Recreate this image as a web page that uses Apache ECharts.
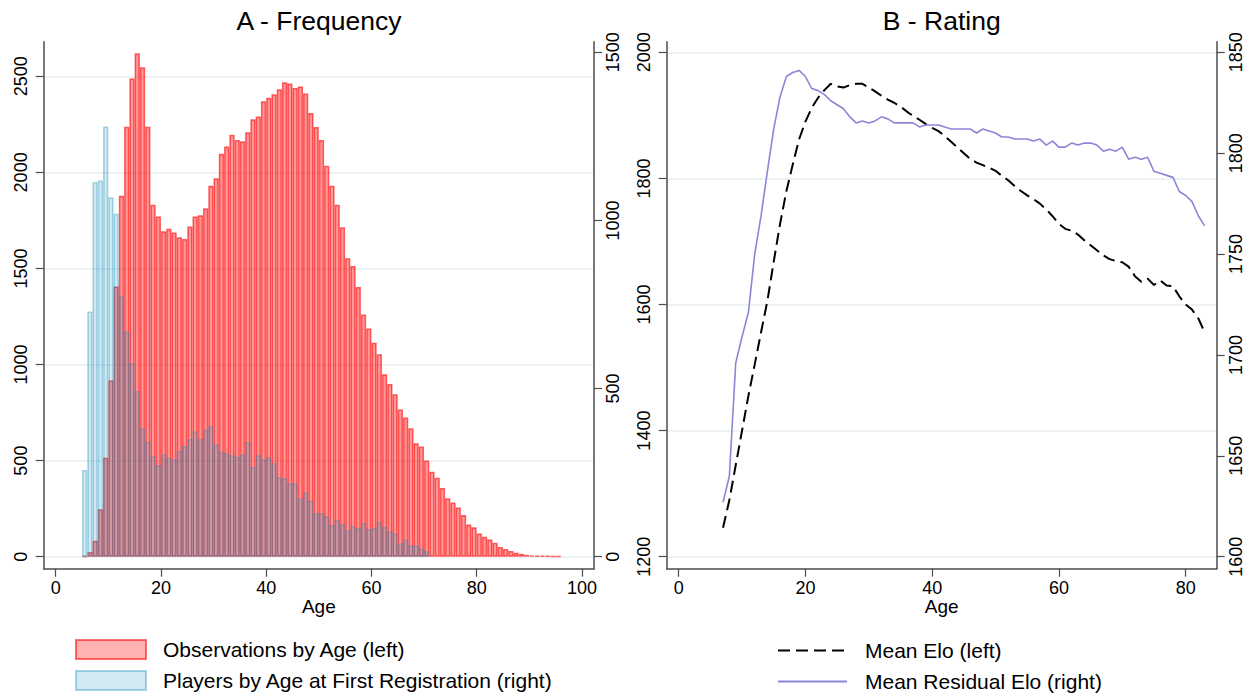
<!DOCTYPE html>
<html>
<head>
<meta charset="utf-8">
<title>Frequency and rating by age</title>
<script src="https://cdn.jsdelivr.net/npm/echarts@6/dist/echarts.min.js"></script>
<style>
  html, body { margin: 0; padding: 0; background: #fff; }
  #chart { width: 1249px; height: 694px; }
</style>
</head>
<body>
<div id="chart"></div>
<script>
// A - Frequency: one-year bins, value = start age of the bin
var obsBins = [5, 6, 7, 8, 9, 10, 11, 12, 13, 14, 15, 16, 17, 18, 19, 20, 21, 22, 23, 24,
  25, 26, 27, 28, 29, 30, 31, 32, 33, 34, 35, 36, 37, 38, 39, 40, 41, 42, 43, 44,
  45, 46, 47, 48, 49, 50, 51, 52, 53, 54, 55, 56, 57, 58, 59, 60, 61, 62, 63, 64,
  65, 66, 67, 68, 69, 70, 71, 72, 73, 74, 75, 76, 77, 78, 79, 80, 81, 82, 83, 84,
  85, 86, 87, 88, 89, 90, 91, 92, 93, 94, 95];
var obsByAge = [3, 24, 83, 247, 515, 918, 1406, 1879, 2237, 2488, 2620, 2547, 2237, 1831, 1770, 1693, 1707, 1687, 1662, 1653,
  1718, 1770, 1777, 1813, 1931, 1969, 2097, 2135, 2196, 2168, 2162, 2209, 2276, 2291, 2370, 2388, 2407, 2433, 2469, 2462,
  2439, 2447, 2410, 2309, 2236, 2168, 2035, 1931, 1832, 1714, 1553, 1513, 1404, 1261, 1187, 1114, 1053, 949, 899, 845,
  766, 725, 668, 591, 573, 501, 442, 411, 358, 304, 282, 256, 217, 168, 153, 121, 104, 90, 72, 50,
  40, 30, 21, 15, 10, 7, 6, 5, 4, 3, 2];

var regBins = [5, 6, 7, 8, 9, 10, 11, 12, 13, 14, 15, 16, 17, 18, 19, 20, 21, 22, 23, 24,
  25, 26, 27, 28, 29, 30, 31, 32, 33, 34, 35, 36, 37, 38, 39, 40, 41, 42, 43, 44,
  45, 46, 47, 48, 49, 50, 51, 52, 53, 54, 55, 56, 57, 58, 59, 60, 61, 62, 63, 64,
  65, 66, 67, 68, 69, 70];
var playersByRegAge = [258, 729, 1114, 1119, 1279, 1069, 1020, 777, 670, 575, 493, 382, 342, 299, 273, 305, 294, 290, 315, 329,
  350, 373, 350, 378, 389, 334, 312, 309, 302, 297, 304, 342, 267, 302, 289, 296, 278, 237, 233, 219,
  218, 174, 192, 166, 130, 130, 120, 94, 109, 97, 79, 91, 85, 100, 82, 85, 105, 89, 75, 69,
  40, 51, 34, 33, 25, 17];

// B - Rating
var ratingAges = [7, 8, 9, 10, 11, 12, 13, 14, 15, 16, 17, 18, 19, 20, 21, 22, 23, 24, 25, 26,
  27, 28, 29, 30, 31, 32, 33, 34, 35, 36, 37, 38, 39, 40, 41, 42, 43, 44, 45, 46,
  47, 48, 49, 50, 51, 52, 53, 54, 55, 56, 57, 58, 59, 60, 61, 62, 63, 64, 65, 66,
  67, 68, 69, 70, 71, 72, 73, 74, 75, 76, 77, 78, 79, 80, 81, 82, 83];
var meanElo = [1246, 1290, 1345, 1400, 1455, 1505, 1556, 1606, 1668, 1728, 1780, 1822, 1862, 1890, 1912, 1928, 1940, 1950, 1946, 1944,
  1948, 1950, 1950, 1944, 1938, 1931, 1925, 1920, 1914, 1906, 1899, 1893, 1886, 1880, 1875, 1867, 1858, 1849, 1840, 1831,
  1825, 1821, 1817, 1812, 1804, 1797, 1788, 1780, 1773, 1767, 1760, 1751, 1740, 1728, 1720, 1717, 1711, 1702, 1694, 1686,
  1678, 1672, 1669, 1667, 1660, 1645, 1636, 1641, 1631, 1638, 1630, 1629, 1613, 1600, 1592, 1578, 1556];
var meanResidElo = [1627, 1640, 1696, 1709, 1721, 1750, 1769, 1791, 1812, 1828, 1838, 1840, 1841, 1838, 1832, 1831, 1829, 1826, 1824, 1822,
  1818, 1815, 1816, 1815, 1816, 1818, 1817, 1815, 1815, 1815, 1815, 1813, 1814, 1814, 1814, 1813, 1812, 1812, 1812, 1812,
  1810, 1812, 1811, 1810, 1808, 1808, 1807, 1807, 1807, 1806, 1807, 1804, 1806, 1803, 1803, 1805, 1804, 1805, 1805, 1804,
  1801, 1802, 1801, 1803, 1797, 1798, 1797, 1798, 1791, 1790, 1789, 1788, 1781, 1779, 1776, 1769, 1764];

// tick labels
var freqAgeTicks = [0, 20, 40, 60, 80, 100];
var obsTicks = [0, 500, 1000, 1500, 2000, 2500];
var regTicks = [0, 500, 1000, 1500];
var ratingAgeTicks = [0, 20, 40, 60, 80];
var eloTicks = [1200, 1400, 1600, 1800, 2000];
var residTicks = [1600, 1650, 1700, 1750, 1800, 1850];

var font = '"Liberation Sans", Arial, sans-serif';
var axisCol = '#4d4d4d';
var gridCol = '#e7eff2';

function plain(v) { return String(v); }

function xAx(grid, min, max, ticks) {
  return {
    gridIndex: grid, type: 'value', min: min, max: max,
    name: 'Age', nameLocation: 'middle', nameGap: 28, nameMoveOverlap: false,
    nameTextStyle: { fontSize: 19, color: '#000', fontFamily: font },
    axisLine: { show: true, onZero: false, lineStyle: { color: axisCol, width: 1.5 } },
    axisTick: { show: true, length: 8, customValues: ticks, lineStyle: { color: axisCol, width: 1.2 } },
    axisLabel: { customValues: ticks, formatter: plain, fontSize: 18, color: '#000', margin: 10, fontFamily: font },
    splitLine: { show: false }
  };
}

function yAx(grid, pos, min, max, ticks, grd) {
  return {
    gridIndex: grid, type: 'value', position: pos, min: min, max: max,
    axisLine: { show: true, onZero: false, lineStyle: { color: axisCol, width: 1.5 } },
    axisTick: { show: true, length: 8, customValues: ticks, lineStyle: { color: axisCol, width: 1.2 } },
    axisLabel: { customValues: ticks, formatter: plain, rotate: 90, fontSize: 18, color: '#000',
      margin: pos == 'left' ? 14 : 10, fontFamily: font },
    splitLine: { show: grd, lineStyle: { color: gridCol, width: 1.5 } }
  };
}

var chart = echarts.init(document.getElementById('chart'), null, { renderer: 'svg' });

var option = {
  animation: false,
  backgroundColor: '#fff',
  textStyle: { fontFamily: font },
  graphic: [
    { type: 'text', x: 319, y: 21, style: { text: 'A - Frequency', fontSize: 26.5, fontFamily: font,
      fill: '#000', align: 'center', verticalAlign: 'middle' } },
    { type: 'text', x: 941.7, y: 21, style: { text: 'B - Rating', fontSize: 26.5, fontFamily: font,
      fill: '#000', align: 'center', verticalAlign: 'middle' } }
  ],
  grid: [
    { left: 43.7, right: 655, top: 41.7, bottom: 125.3, outerBoundsMode: 'none' },
    { left: 666.7, right: 32.3, top: 41.7, bottom: 125.3, outerBoundsMode: 'none' }
  ],
  xAxis: [
    xAx(0, -2.28, 102.3, freqAgeTicks),
    xAx(1, -1.89, 84.9, ratingAgeTicks)
  ],
  yAxis: [
    yAx(0, 'left', -62.4, 2680, obsTicks, true),
    yAx(0, 'right', -35.7, 1531.5, regTicks, false),
    yAx(1, 'left', 1181, 2016.8, eloTicks, true),
    yAx(1, 'right', 1594.05, 1855.25, residTicks, false)
  ],
  legend: [
    {
      orient: 'vertical', left: 75, top: 639, padding: 0,
      itemWidth: 70, itemHeight: 19, itemGap: 10, icon: 'rect', selectedMode: false,
      textStyle: { fontSize: 21, color: '#000', fontFamily: font, padding: [0, 0, 0, 12] },
      data: [
        { name: 'Observations by Age (left)',
          itemStyle: { color: 'rgba(255,0,0,0.3)', borderColor: 'rgba(255,0,0,0.55)', borderWidth: 2 } },
        { name: 'Players by Age at First Registration (right)',
          itemStyle: { color: 'rgba(28,147,190,0.2)', borderColor: 'rgba(28,147,190,0.38)', borderWidth: 2 } }
      ]
    },
    {
      orient: 'vertical', left: 777, top: 640, padding: 0,
      itemWidth: 69, itemHeight: 19, itemGap: 10, selectedMode: false,
      itemStyle: { opacity: 0 },
      textStyle: { fontSize: 21, color: '#000', fontFamily: font, padding: [0, 0, 0, 13] },
      data: ['Mean Elo (left)', 'Mean Residual Elo (right)']
    }
  ],
  series: [
    {
      name: 'Observations by Age (left)', type: 'bar', xAxisIndex: 0, yAxisIndex: 0,
      barWidth: 5.263, barGap: '-100%',
      itemStyle: { color: 'rgba(255,0,0,0.4)', borderColor: 'rgba(255,0,0,0.6)', borderWidth: 1.5 },
      data: obsBins.map(function (a, i) { return [a + 0.5, obsByAge[i]]; })
    },
    {
      name: 'Players by Age at First Registration (right)', type: 'bar', xAxisIndex: 0, yAxisIndex: 1,
      barWidth: 5.263, barGap: '-100%',
      itemStyle: { color: 'rgba(28,147,190,0.2)', borderColor: 'rgba(28,147,190,0.38)', borderWidth: 1.5 },
      data: regBins.map(function (a, i) { return [a + 0.5, playersByRegAge[i]]; })
    },
    {
      name: 'Mean Elo (left)', type: 'line', xAxisIndex: 1, yAxisIndex: 2,
      symbol: 'none', itemStyle: { color: '#000', opacity: 0 },
      lineStyle: { color: '#000', width: 2, type: [12, 6] },
      data: ratingAges.map(function (a, i) { return [a, meanElo[i]]; })
    },
    {
      name: 'Mean Residual Elo (right)', type: 'line', xAxisIndex: 1, yAxisIndex: 3,
      symbol: 'none', itemStyle: { color: '#8c86d6', opacity: 0 },
      lineStyle: { color: '#8c86d6', width: 1.6 },
      data: ratingAges.map(function (a, i) { return [a, meanResidElo[i]]; })
    }
  ]
};

chart.setOption(option);
</script>
</body>
</html>
